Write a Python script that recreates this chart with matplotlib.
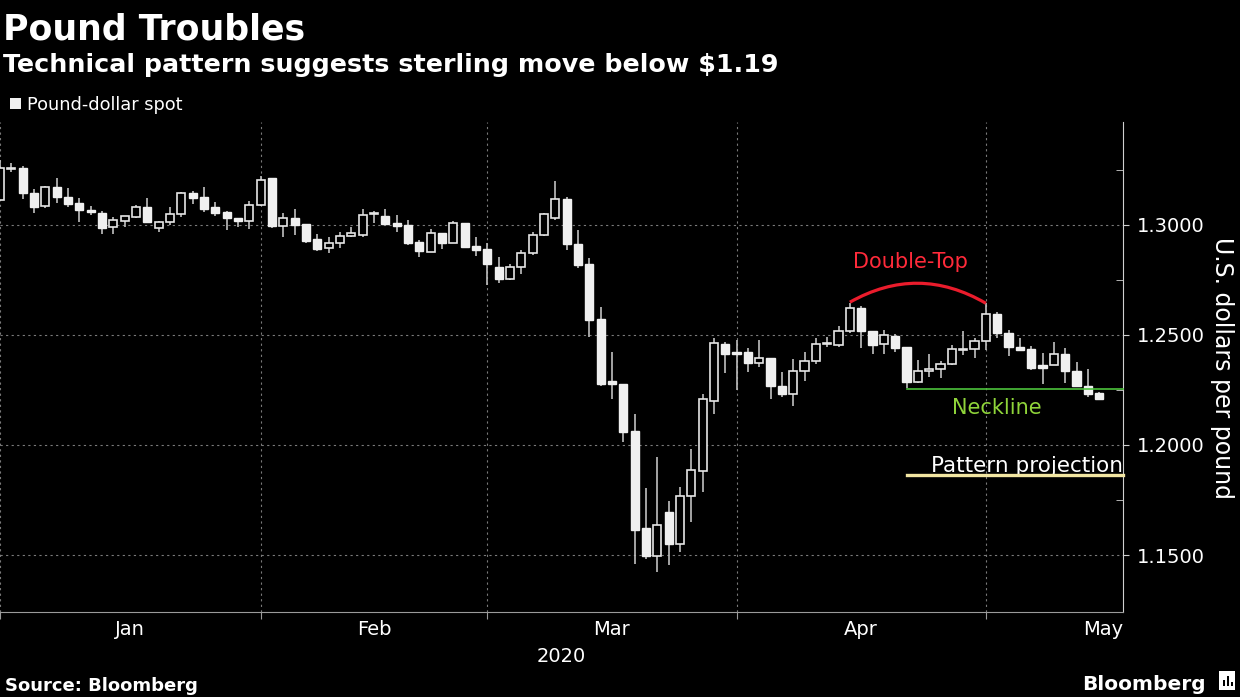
import numpy as np
import pandas as pd
import matplotlib
matplotlib.use('Agg')
import matplotlib.pyplot as plt
from matplotlib.path import Path
from matplotlib.patches import PathPatch, Rectangle

# daily pound-dollar candles, Dec 31 2019 .. May 14 2020 (weekdays)
dates = pd.bdate_range('2019-12-31', '2020-05-14')
opens = [1.3113, 1.3256, 1.3258, 1.3145, 1.3086, 1.3172, 1.3127, 1.3100, 1.3065, 1.3054,
         1.2991, 1.3018, 1.3036, 1.3082, 1.2986, 1.3014, 1.3050, 1.3145, 1.3127, 1.3082,
         1.3059, 1.3032, 1.3018, 1.3091, 1.3213, 1.2995, 1.3032, 1.3005, 1.2937, 1.2896,
         1.2918, 1.2950, 1.2955, 1.3050, 1.3041, 1.3009, 1.3000, 1.2923, 1.2877, 1.2964,
         1.2918, 1.3009, 1.2905, 1.2891, 1.2809, 1.2755, 1.2809, 1.2873, 1.2955, 1.3032,
         1.3118, 1.2914, 1.2823, 1.2574, 1.2293, 1.2279, 1.2062, 1.1622, 1.1495, 1.1694,
         1.1549, 1.1767, 1.1880, 1.2202, 1.2461, 1.2424, 1.2424, 1.2374, 1.2397, 1.2270,
         1.2234, 1.2338, 1.2383, 1.2458, 1.2456, 1.2520, 1.2624, 1.2520, 1.2461, 1.2497,
         1.2447, 1.2288, 1.2338, 1.2347, 1.2370, 1.2433, 1.2438, 1.2474, 1.2597, 1.2510,
         1.2447, 1.2438, 1.2365, 1.2365, 1.2415, 1.2338, 1.2266, 1.2238]
highs = [1.3295, 1.3281, 1.3267, 1.3163, 1.3175, 1.3213, 1.3168, 1.3122, 1.3086, 1.3063,
         1.3036, 1.3041, 1.3091, 1.3122, 1.3018, 1.3082, 1.3150, 1.3154, 1.3172, 1.3104,
         1.3063, 1.3032, 1.3109, 1.3222, 1.3213, 1.3054, 1.3073, 1.3005, 1.2959, 1.2946,
         1.2968, 1.2991, 1.3073, 1.3063, 1.3073, 1.3045, 1.3023, 1.2932, 1.2982, 1.2964,
         1.3018, 1.3009, 1.2946, 1.2918, 1.2855, 1.2823, 1.2886, 1.2968, 1.3054, 1.3199,
         1.3127, 1.2977, 1.2850, 1.2628, 1.2424, 1.2279, 1.2139, 1.1803, 1.1944, 1.1744,
         1.1808, 1.1980, 1.2234, 1.2488, 1.2470, 1.2479, 1.2442, 1.2479, 1.2397, 1.2334,
         1.2393, 1.2424, 1.2488, 1.2492, 1.2542, 1.2646, 1.2633, 1.2520, 1.2524, 1.2506,
         1.2447, 1.2388, 1.2415, 1.2383, 1.2456, 1.2520, 1.2488, 1.2646, 1.2606, 1.2524,
         1.2488, 1.2452, 1.2420, 1.2470, 1.2442, 1.2379, 1.2347, 1.2243]
lows = [1.3113, 1.3240, 1.3118, 1.3054, 1.3077, 1.3100, 1.3082, 1.3014, 1.3045, 1.2959,
        1.2959, 1.2991, 1.3032, 1.3009, 1.2968, 1.3000, 1.3036, 1.3095, 1.3059, 1.3041,
        1.2977, 1.2991, 1.2982, 1.3086, 1.2986, 1.2946, 1.2955, 1.2918, 1.2882, 1.2873,
        1.2896, 1.2946, 1.2946, 1.3009, 1.3005, 1.2968, 1.2909, 1.2855, 1.2877, 1.2891,
        1.2918, 1.2896, 1.2859, 1.2728, 1.2737, 1.2750, 1.2778, 1.2864, 1.2950, 1.3023,
        1.2886, 1.2805, 1.2492, 1.2266, 1.2207, 1.2012, 1.1459, 1.1481, 1.1422, 1.1454,
        1.1513, 1.1649, 1.1785, 1.2139, 1.2325, 1.2252, 1.2334, 1.2356, 1.2211, 1.2220,
        1.2175, 1.2293, 1.2370, 1.2447, 1.2447, 1.2511, 1.2442, 1.2415, 1.2415, 1.2424,
        1.2257, 1.2284, 1.2311, 1.2306, 1.2365, 1.2411, 1.2397, 1.2433, 1.2488, 1.2406,
        1.2433, 1.2343, 1.2275, 1.2365, 1.2284, 1.2266, 1.2220, 1.2207]
closes = [1.3258, 1.3260, 1.3145, 1.3082, 1.3172, 1.3127, 1.3095, 1.3068, 1.3061, 1.2986,
          1.3023, 1.3041, 1.3082, 1.3014, 1.3014, 1.3050, 1.3145, 1.3122, 1.3073, 1.3054,
          1.3032, 1.3018, 1.3091, 1.3204, 1.2995, 1.3032, 1.3000, 1.2927, 1.2891, 1.2918,
          1.2950, 1.2964, 1.3045, 1.3054, 1.3005, 1.2995, 1.2918, 1.2882, 1.2964, 1.2918,
          1.3009, 1.2900, 1.2886, 1.2823, 1.2755, 1.2809, 1.2873, 1.2955, 1.3050, 1.3118,
          1.2914, 1.2819, 1.2569, 1.2279, 1.2275, 1.2057, 1.1613, 1.1495, 1.1636, 1.1549,
          1.1767, 1.1885, 1.2207, 1.2465, 1.2415, 1.2415, 1.2374, 1.2397, 1.2270, 1.2234,
          1.2338, 1.2383, 1.2461, 1.2461, 1.2520, 1.2624, 1.2520, 1.2456, 1.2501, 1.2442,
          1.2288, 1.2338, 1.2347, 1.2370, 1.2438, 1.2438, 1.2474, 1.2597, 1.2510, 1.2447,
          1.2433, 1.2352, 1.2352, 1.2415, 1.2338, 1.2266, 1.2234, 1.2211]

y_ticks = [1.15, 1.20, 1.25, 1.30]
y_minor = [1.175, 1.225, 1.275, 1.325]

# annotation levels
top1_x, top2_x, top_mid_x = 75, 87, 81
top1_y, top2_y, arc_ctrl_y = 1.2649, 1.2644, 1.2824
neck_start, neckline = 80, 1.2255
projection = 1.1862

o = np.array(opens); h = np.array(highs); l = np.array(lows); c = np.array(closes)
x = np.arange(len(dates))
up = c >= o
bottoms = np.minimum(o, c)
heights = np.maximum(np.abs(c - o), 0.0005)

W, H = 1240, 697
fig = plt.figure(figsize=(W / 100, H / 100), dpi=100, facecolor='black')
ax = fig.add_axes([0, 1 - 612 / H, 1123 / W, (612 - 122) / H], facecolor='black')

xmax = 99.1
ax.set_xlim(0, xmax)
ax.set_ylim(1.1241, 1.3468)

# candles
ax.vlines(x, l, h, color='#bfbfbf', lw=1.2, zorder=2)
ax.bar(x[up], heights[up], bottom=bottoms[up], width=0.72, facecolor='black',
       edgecolor='#e6e6e6', lw=1.2, zorder=3)
ax.bar(x[~up], heights[~up], bottom=bottoms[~up], width=0.72, facecolor='#f0f0f0',
       edgecolor='#f0f0f0', lw=1.0, zorder=3)

# month boundaries (last trading day of each month)
months = pd.Series(x, index=dates).groupby(dates.to_period('M'))
month_end = [int(v.iloc[-1]) for _, v in months][:-1]
# only months with a real span get a label (skip the single Dec 31 session)
month_names = [p.strftime('%b') for p, v in months if len(v) > 1]

ax.set_xticks(month_end)
ax.set_xticklabels([])
ax.tick_params(axis='x', direction='out', length=5, color='#9a9a9a')
ax.grid(axis='x', linestyle=(0, (2, 3)), color='#7a7a7a', lw=0.8)
ax.grid(axis='y', linestyle=(0, (2, 3)), color='#7a7a7a', lw=0.8)

bounds = month_end + [xmax]
for i, name in enumerate(month_names):
    if i < len(month_names) - 1:
        xc, ha = (bounds[i] + bounds[i + 1]) / 2, 'center'
    else:
        xc, ha = xmax, 'right'
    ax.annotate(name, xy=(xc, 0), xycoords=('data', 'axes fraction'), xytext=(0, -8),
                textcoords='offset pixels', ha=ha, va='top', color='white', fontsize=14)
ax.annotate('2020', xy=(0.5, 0), xycoords='axes fraction', xytext=(0, -35),
            textcoords='offset pixels', ha='center', va='top', color='white', fontsize=14)

ax.yaxis.tick_right()
ax.set_yticks(y_ticks)
ax.set_yticklabels([f'{v:.4f}' for v in y_ticks])
ax.set_yticks(y_minor, minor=True)
ax.tick_params(axis='y', which='major', direction='out', length=4, pad=6,
               color='#d0d0d0', labelcolor='white', labelsize=14)
ax.tick_params(axis='y', which='minor', direction='in', length=5, color='#d0d0d0')

for s in ['top', 'left']:
    ax.spines[s].set_visible(False)
ax.spines['bottom'].set_color('#9a9a9a')
ax.spines['right'].set_color('#d0d0d0')
ax.set_axisbelow(True)

# double-top arc
arc = Path([(top1_x, top1_y), (top_mid_x, arc_ctrl_y), (top2_x, top2_y)],
           [Path.MOVETO, Path.CURVE3, Path.CURVE3])
ax.add_patch(PathPatch(arc, fill=False, edgecolor='#ea1c2c', lw=2.3, zorder=5))
ax.text(80.3, 1.2832, 'Double-Top', color='#ff2a3a', fontsize=15, ha='center', va='center')

# neckline
ax.plot([neck_start, xmax], [neckline, neckline], color='#4cc23c', lw=1.2, zorder=4,
        clip_on=False)
ax.text(88, 1.2168, 'Neckline', color='#8fd43a', fontsize=15, ha='center', va='center')

# projection
ax.plot([neck_start, xmax], [projection, projection], color='#f2e6a2', lw=2.4, zorder=4,
        clip_on=False)
ax.text(xmax, 1.1905, 'Pattern projection', color='white', fontsize=15.5,
        ha='right', va='center')

# header
fig.text(3 / W, 1 - 39 / H, 'Pound Troubles', color='white', fontsize=25,
         fontweight='bold', va='baseline')
fig.text(3 / W, 1 - 72 / H, 'Technical pattern suggests sterling move below $1.19',
         color='white', fontsize=18.3, fontweight='bold', va='baseline')
fig.patches.append(Rectangle((10 / W, 1 - 109 / H), 11 / W, 11 / H, facecolor='#f0f0f0',
                             transform=fig.transFigure, figure=fig))
fig.text(27 / W, 1 - 110 / H, 'Pound-dollar spot', color='white', fontsize=12.8,
         va='baseline')

fig.text(1222 / W, 1 - 368 / H, 'U.S. dollars per pound', color='white', fontsize=17,
         rotation=270, ha='center', va='center')

# footer
fig.text(5 / W, 1 - 691 / H, 'Source: Bloomberg', color='white', fontsize=13,
         fontweight='bold', va='baseline')
fig.text(1206 / W, 1 - 690 / H, 'Bloomberg', color='white', fontsize=14.5,
         fontweight='bold', ha='right', va='baseline')
fig.patches.append(Rectangle((1219 / W, 1 - 690 / H), 16 / W, 19 / H, facecolor='white',
                             transform=fig.transFigure, figure=fig))
for bx, bh in [(1223, 6), (1227, 10), (1231, 4)]:
    fig.patches.append(Rectangle((bx / W, 1 - 686 / H), 2 / W, bh / H, facecolor='black',
                                 transform=fig.transFigure, figure=fig))

fig.savefig('out.png', dpi=100, facecolor='black')
